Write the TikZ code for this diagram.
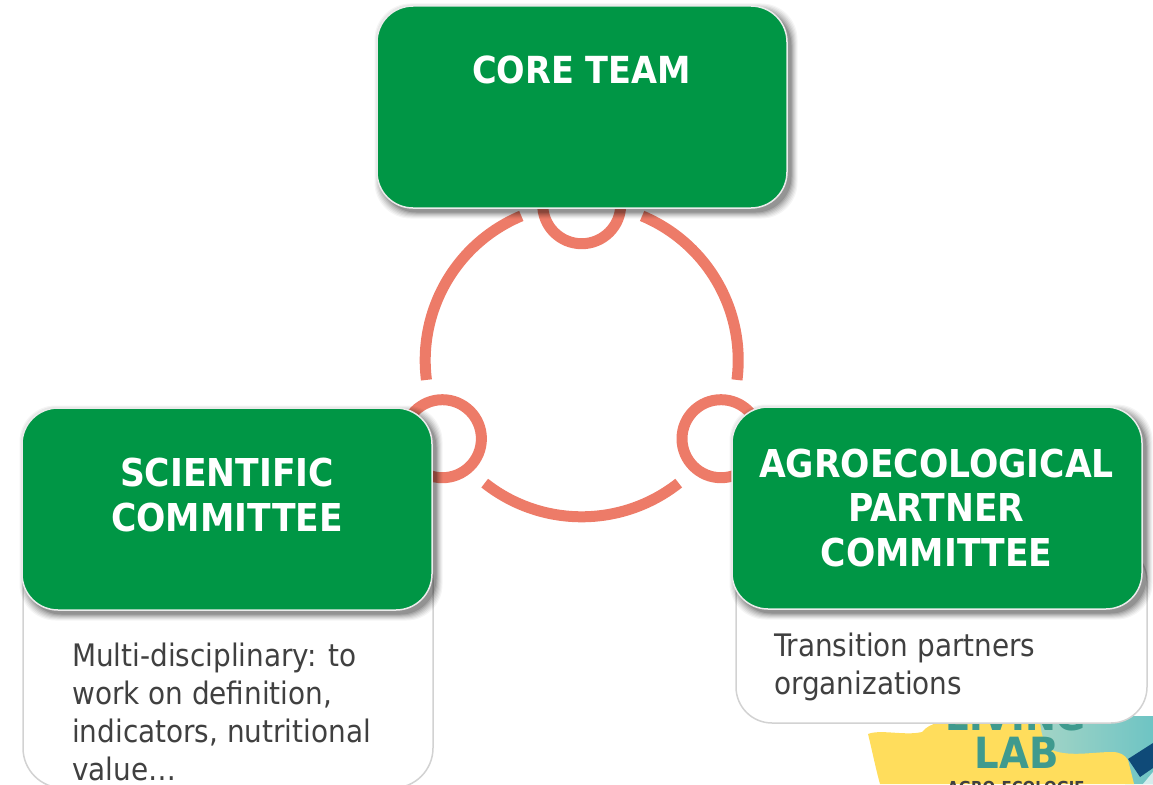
\documentclass[tikz,border=0pt]{standalone}
\usepackage{fontspec}
\setmainfont{DejaVu Sans Condensed}
\usetikzlibrary{calc}
\definecolor{boxgreen}{HTML}{009645}
\definecolor{ringsalmon}{HTML}{ED7B68}
\definecolor{bodygrey}{HTML}{404040}
\definecolor{edgegrey}{HTML}{D2D2D2}
\definecolor{logoyellow}{HTML}{FFDD5C}
\definecolor{logoteal}{HTML}{3F9A8E}
\definecolor{logoblue}{HTML}{0F4A78}
\definecolor{tealA}{HTML}{A5D5C6}
\definecolor{tealB}{HTML}{6EC4C4}
\tikzset{
  ring/.style={draw=ringsalmon,line width=11pt},
  panel/.style={draw=edgegrey,line width=1.5pt,fill=white,rounded corners=40pt},
  greenbox/.style={fill=boxgreen,draw=white!92!black,line width=1.5pt,rounded corners=36pt},
  headtext/.style={text=white,align=center,inner sep=0pt,anchor=base},
  bodytext/.style={text=bodygrey,font=\fontsize{31}{37.7}\selectfont,align=left,inner sep=0pt,anchor=base west},
}
\newcommand{\softshadow}[4]{%
  \foreach \w/\op in {13/.04,11/.05,9/.06,7/.07,5/.08,3/.1,1/.12}{
    \fill[black,opacity=\op,rounded corners=36pt] ($(#1,#2)+(4-\w/2,4-\w/2)$) rectangle ($(#3,#4)+(4+\w/2,4+\w/2)$);
  }}
\begin{document}
\begin{tikzpicture}[x=1pt,y=-1pt]
\useasboundingbox (0,0) rectangle (1153,784);
\clip (0,0) rectangle (1153,784);
% ring
\coordinate (ringc) at (581.7,360.3);
\draw[ring] ($(ringc)+(112.7:156.5 and -156.5)$) arc[start angle=-112.7,end angle=-187.2,radius=156.5];
\draw[ring] ($(ringc)+(67.3:156.5 and -156.5)$) arc[start angle=-67.3,end angle=7.2-0,radius=156.5];
\draw[ring] ($(ringc)+(231.7:156.5 and -156.5)$) arc[start angle=-231.7,end angle=-308.3,radius=156.5];
\node[ring,circle,minimum size=78pt,inner sep=0pt] (topring) at (581.7,204.7) {};
\node[ring,circle,minimum size=78pt,inner sep=0pt] (leftring) at (442.4,438.7) {};
\node[ring,circle,minimum size=78pt,inner sep=0pt] (rightring) at (721,438.7) {};
% logo
\shade[left color=tealA,right color=tealB] (1035,716) -- (1153,716) -- (1153,784) -- (1125,784) -- (1115,770) -- (1050,770) -- cycle;
\fill[logoyellow] (868,734) .. controls (880,729) and (905,736) .. (922,732) .. controls (930,722) and (945,722) .. (955,716) -- (1040,716) .. controls (1040,735) and (1045,750) .. (1058,752) .. controls (1075,756) and (1095,752) .. (1112,752) .. controls (1120,752) and (1125,755) .. (1128,760) -- (1134,784) -- (880,784) .. controls (876,770) and (872,750) .. (868,734) -- cycle;
\fill[logoblue] (1128,759) -- (1153,743) -- (1153,768) -- (1140,777) -- cycle;
\fill[white,opacity=.7] (1143,784) -- (1153,772) -- (1153,784) -- cycle;
\node[inner sep=0pt,anchor=base,text=logoteal,font=\bfseries\fontsize{41}{41}\selectfont] (livingtext) at (1016,730) {LIVING};
\node[inner sep=0pt,anchor=base,text=logoteal,font=\bfseries\fontsize{43}{43}\selectfont] (labtext) at (1017,768.5) {LAB};
\node[inner sep=0pt,anchor=base,text=bodygrey,font=\bfseries\fontsize{16.5}{16.5}\selectfont] (agrotext) at (1016,793) {AGRO-ECOLOGIE};
% description panels
\draw[panel] (23,540) rectangle (433,788);
\draw[panel,rounded corners=36pt] (736,545) rectangle (1147,723);
% green boxes
\softshadow{377}{6}{787}{208}
\draw[greenbox] (377,6) rectangle (787,208);
\softshadow{22}{408}{432}{610}
\draw[greenbox] (22,408) rectangle (432,610);
\softshadow{732}{407}{1142}{609}
\draw[greenbox] (732,407) rectangle (1142,609);
% texts
\node[headtext,font=\bfseries\fontsize{37.3}{44.5}\selectfont] (core) at (581.5,83) {CORE TEAM};
\node[headtext,font=\bfseries\fontsize{38.4}{44.5}\selectfont] (sci) at (227,531) {SCIENTIFIC\\COMMITTEE};
\node[headtext,font=\bfseries\fontsize{38.4}{44.5}\selectfont] (agro) at (936.5,566) {AGROECOLOGICAL\\PARTNER\\COMMITTEE};
\node[bodytext] (scibody) at (72,780) {Multi-disciplinary: to\\work on definition,\\indicators, nutritional\\value…};
\node[bodytext] (agrobody) at (774,694) {Transition partners\\organizations};
\end{tikzpicture}
\end{document}
